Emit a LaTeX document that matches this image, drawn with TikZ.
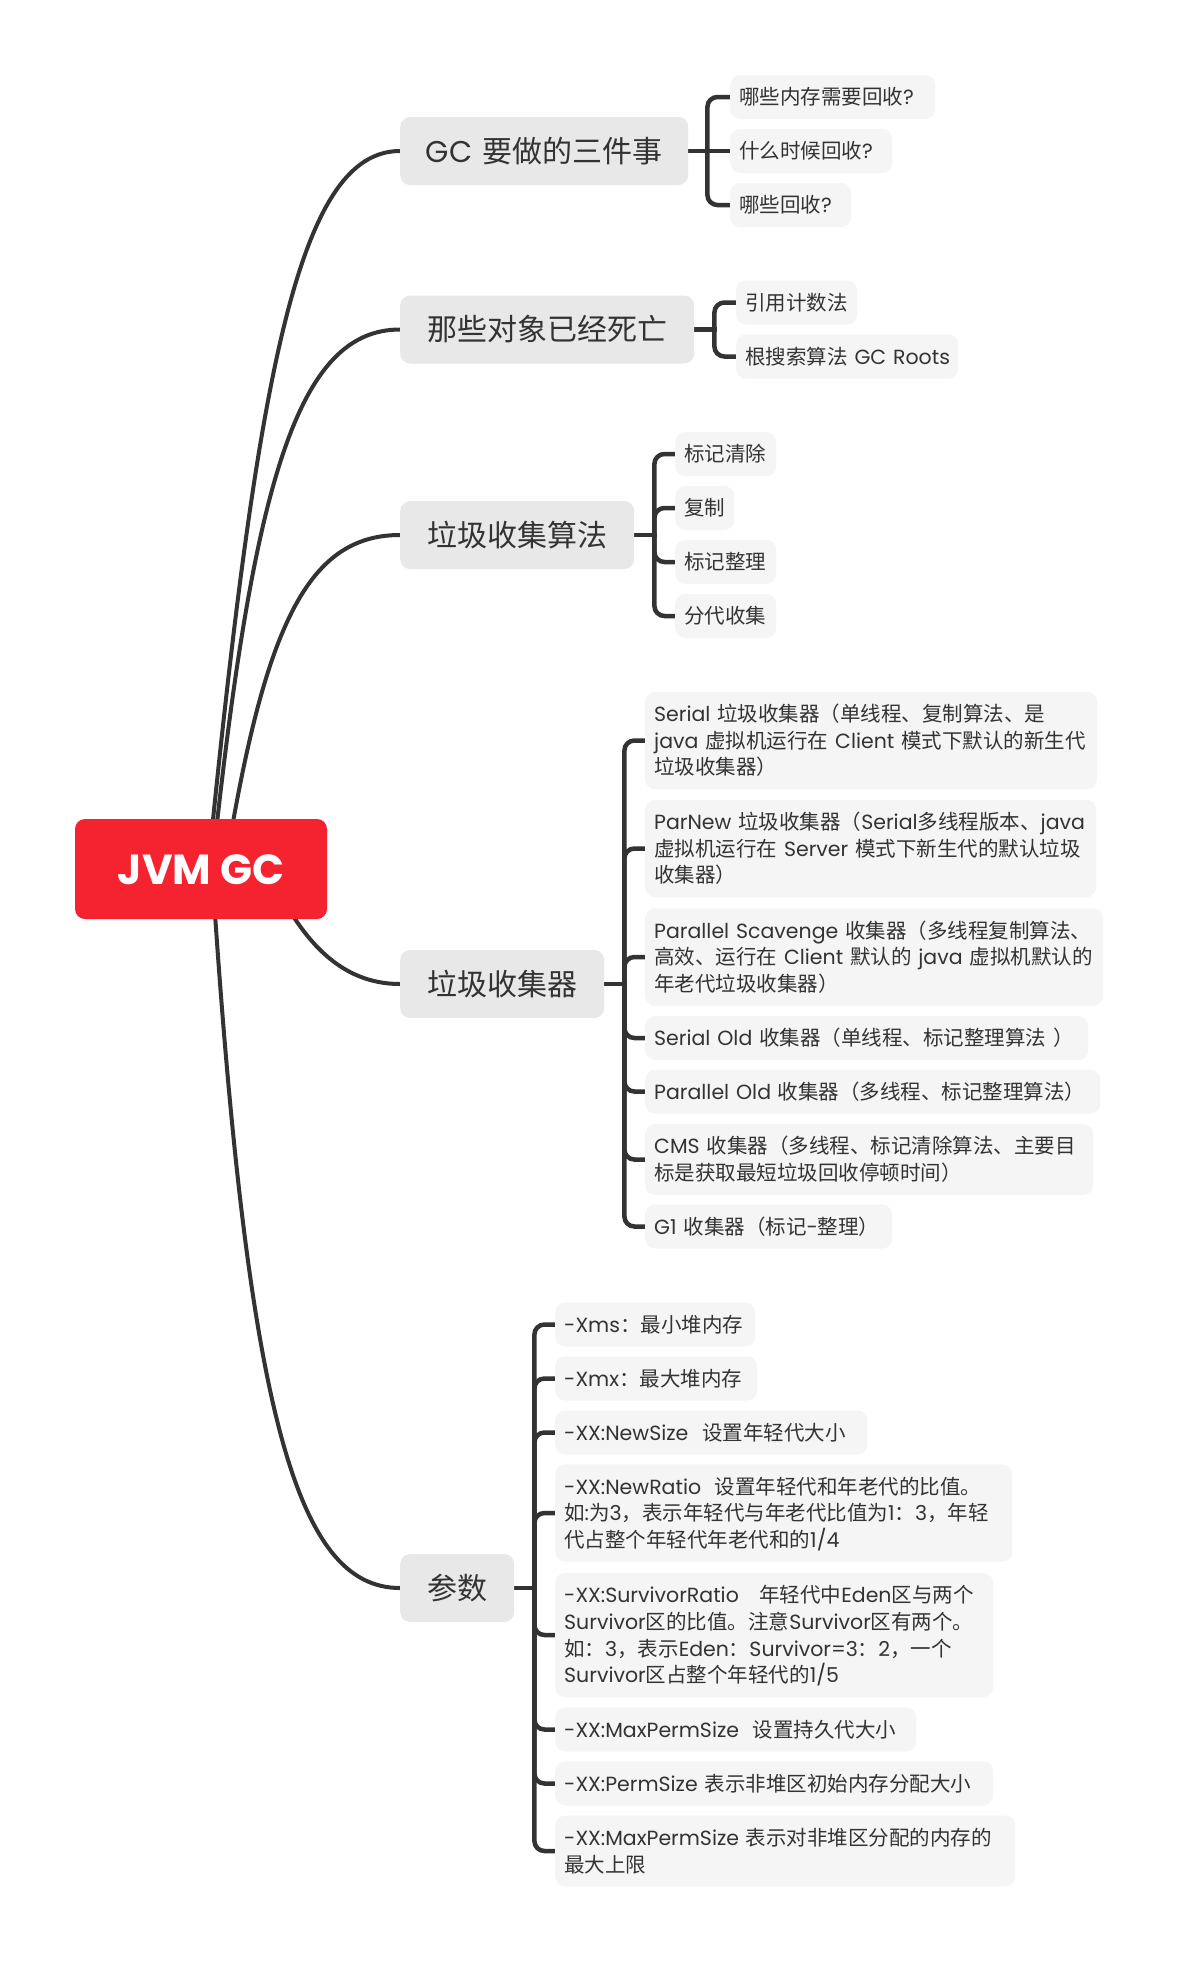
\documentclass[tikz,border=0pt]{standalone}
\usepackage{fontspec}
\setmainfont{Poppins}
\newfontfamily\enf{Poppins}
\newfontfamily\cjk{Noto Sans CJK SC}
\usetikzlibrary{calc,backgrounds}
\XeTeXinterchartokenstate=1
\newXeTeXintercharclass\CJKcls
\newcount\cjkcc
\cjkcc="3000 \loop\XeTeXcharclass\cjkcc=\CJKcls\ifnum\cjkcc<"303F \advance\cjkcc by 1 \repeat
\cjkcc="4E00 \loop\XeTeXcharclass\cjkcc=\CJKcls\ifnum\cjkcc<"9FFF \advance\cjkcc by 1 \repeat
\cjkcc="FF00 \loop\XeTeXcharclass\cjkcc=\CJKcls\ifnum\cjkcc<"FFEF \advance\cjkcc by 1 \repeat
\XeTeXinterchartoks 0 \CJKcls = {\cjk}
\XeTeXinterchartoks 4095 \CJKcls = {\cjk}
\XeTeXinterchartoks \CJKcls 0 = {\enf}
\XeTeXinterchartoks \CJKcls 4095 = {\enf}
\definecolor{rootred}{RGB}{245,34,48}
\definecolor{lone}{RGB}{232,232,232}
\definecolor{ltwo}{RGB}{245,245,245}
\definecolor{ink}{RGB}{51,51,51}
\newcommand\ls{\rule[-5.6pt]{0pt}{26.7pt}}
\begin{document}
\begin{tikzpicture}[x=1pt,y=-1pt,
 rootnode/.style={fill=rootred, rounded corners=10pt, text=white, font=\fontsize{42}{50}\selectfont\bfseries, minimum width=252pt, minimum height=100pt, inner sep=0pt, text height=35pt, text depth=5pt},
 lonenode/.style={fill=lone, rounded corners=10pt, text=ink, font=\fontsize{30}{36}\selectfont, minimum height=68pt, inner xsep=0pt, inner ysep=0pt, anchor=west, align=center, text height=26.4pt, text depth=3.6pt},
 ltwonode/.style={fill=ltwo, rounded corners=10pt, text=ink, font=\fontsize{20.5}{26.7}\selectfont, inner xsep=9pt, inner ysep=8.65pt, anchor=west, align=left},
 curve/.style={draw=ink, line width=4pt},
 brace/.style={draw=ink, line width=4.5pt, rounded corners=10pt, line cap=rect}]
\useasboundingbox (0,0) rectangle (1179,1962);
% root
\node[rootnode] (root) at (201,869) {JVM GC};
% level 1
\node[lonenode, text width=288pt] (A1) at (400,151) {GC~要做的三件事};
\node[lonenode, text width=294pt] (A2) at (400,329.5) {那些对象已经死亡};
\node[lonenode, text width=234pt] (A3) at (400,535) {垃圾收集算法};
\node[lonenode, text width=204pt] (A4) at (400,984) {垃圾收集器};
\node[lonenode, text width=114pt] (A5) at (400,1588) {参数};
% level 2: GC
\node[ltwonode, text width=187pt] (B1) at (730,97) {\ls 哪些内存需要回收?};
\node[ltwonode, text width=144pt] (B2) at (730,151) {\ls 什么时候回收?};
\node[ltwonode, text width=103pt] (B3) at (730,205) {\ls 哪些回收?};
% dead objects
\node[ltwonode, text width=103pt] (C1) at (736,302.5) {\ls 引用计数法};
\node[ltwonode, text width=204pt] (C2) at (736,356.5) {\ls 根搜索算法~GC~Roots};
% algorithms
\node[ltwonode, text width=83pt] (D1) at (675,454) {\ls 标记清除};
\node[ltwonode, text width=41pt] (D2) at (675,508) {\ls 复制};
\node[ltwonode, text width=83pt] (D3) at (675,562) {\ls 标记整理};
\node[ltwonode, text width=83pt] (D4) at (675,616) {\ls 分代收集};
% collectors
\node[ltwonode, text width=434pt] (E1) at (645,740.5) {\ls Serial~垃圾收集器（单线程、复制算法、是\\\ls java~虚拟机运行在~Client~模式下默认的新生代\\\ls 垃圾收集器）};
\node[ltwonode, text width=433pt] (E2) at (645,848.5) {\ls ParNew~垃圾收集器（Serial多线程版本、java\\\ls 虚拟机运行在~Server~模式下新生代的默认垃圾\\\ls 收集器）};
\node[ltwonode, text width=440pt] (E3) at (645,957) {\ls Parallel~Scavenge~收集器（多线程复制算法、\\\ls 高效、运行在~Client~默认的~java~虚拟机默认的\\\ls 年老代垃圾收集器）};
\node[ltwonode, text width=425pt] (E4) at (645,1038) {\ls Serial~Old~收集器（单线程、标记整理算法~）};
\node[ltwonode, text width=437pt] (E5) at (645,1091.5) {\ls Parallel~Old~收集器（多线程、标记整理算法）};
\node[ltwonode, text width=430pt] (E6) at (645,1159.5) {\ls CMS~收集器（多线程、标记清除算法、主要目\\\ls 标是获取最短垃圾回收停顿时间）};
\node[ltwonode, text width=229pt] (E7) at (645,1226.5) {\ls G1~收集器（标记-整理）};
% parameters
\node[ltwonode, text width=182pt] (F1) at (555,1324.5) {\ls -Xms：最小堆内存};
\node[ltwonode, text width=184pt] (F2) at (555,1378.5) {\ls -Xmx：最大堆内存};
\node[ltwonode, text width=294pt] (F3) at (555,1432.5) {\ls -XX:NewSize~~设置年轻代大小};
\node[ltwonode, text width=439pt] (F4) at (555,1513) {\ls -XX:NewRatio~~设置年轻代和年老代的比值。\\\ls 如:为3，表示年轻代与年老代比值为1：3，年轻\\\ls 代占整个年轻代年老代和的1/4};
\node[ltwonode, text width=420pt] (F5) at (555,1635) {\ls -XX:SurvivorRatio~~~年轻代中Eden区与两个\\\ls Survivor区的比值。注意Survivor区有两个。\\\ls 如：3，表示Eden：Survivor=3：2，一个\\\ls Survivor区占整个年轻代的1/5};
\node[ltwonode, text width=343pt] (F6) at (555,1729.5) {\ls -XX:MaxPermSize~~设置持久代大小};
\node[ltwonode, text width=420pt] (F7) at (555,1783.5) {\ls -XX:PermSize~表示非堆区初始内存分配大小};
\node[ltwonode, text width=442pt] (F8) at (555,1851) {\ls -XX:MaxPermSize~表示对非堆区分配的内存的\\\ls 最大上限};
% junctions
\coordinate (jA) at ($(A1.east)+(19,0)$);
\coordinate (jB) at ($(A2.east)+(20,0)$);
\coordinate (jC) at ($(A3.east)+(20,0)$);
\coordinate (jD) at ($(A4.east)+(20,0)$);
\coordinate (jE) at ($(A5.east)+(20,0)$);
\begin{scope}[on background layer]
\fill[white] (0,0) rectangle (1179,1962);
% root curves
\draw[curve] ($(root.center)+(7,0)$) .. controls (258,369) and (299,151) .. (A1.west);
\draw[curve] ($(root.center)+(11,0)$) .. controls (253,480) and (298,329.5) .. (A2.west);
\draw[curve] ($(root.center)+(24,0)$) .. controls (264,629) and (306,535) .. (A3.west);
\draw[curve] ($(root.center)+(67,0)$) .. controls (300,940) and (340,984) .. (A4.west);
\draw[curve] ($(root.center)+(11,0)$) .. controls (247,1409) and (295,1588) .. (A5.west);
% braces
\draw[brace] (A1.east) -- (jA);
\draw[brace] (jA) |- (B1.west);
\draw[brace] (jA) -- (B2.west);
\draw[brace] (jA) |- (B3.west);
\draw[brace] (A2.east) -- (jB);
\foreach \c in {C1,C2} \draw[brace] (jB) |- (\c.west);
\draw[brace] (A3.east) -- (jC);
\foreach \c in {D1,D2,D3,D4} \draw[brace] (jC) |- (\c.west);
\draw[brace] (A4.east) -- (jD);
\foreach \c in {E1,E2,E3,E4,E5,E6,E7} \draw[brace] (jD) |- (\c.west);
\draw[brace] (A5.east) -- (jE);
\foreach \c in {F1,F2,F3,F4,F5,F6,F7,F8} \draw[brace] (jE) |- (\c.west);
\end{scope}
\end{tikzpicture}
\end{document}
